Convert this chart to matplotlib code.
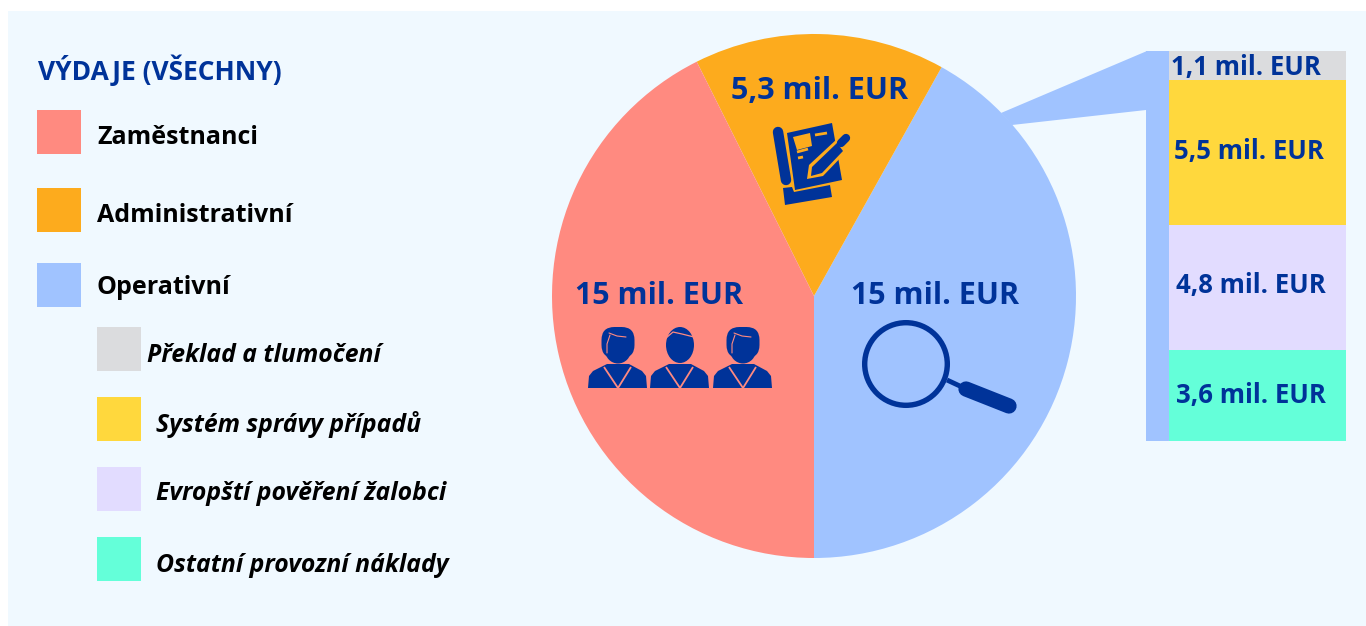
import numpy as np
import matplotlib
matplotlib.use("Agg")
import matplotlib.pyplot as plt
from matplotlib.patches import Rectangle, Polygon, Circle, Ellipse, FancyBboxPatch

main_labels = ["Zaměstnanci", "Administrativní", "Operativní"]
main_values = [15, 5.45, 14.75]
main_texts = ["15 mil. EUR", "5,3 mil. EUR", "15 mil. EUR"]

op_labels = ["Překlad a tlumočení", "Systém správy případů", "Evropští pověření žalobci", "Ostatní provozní náklady"]
op_values = [1.1, 5.6, 4.8, 3.5]
op_texts = ["1,1 mil. EUR", "5,5 mil. EUR", "4,8 mil. EUR", "3,6 mil. EUR"]

RED = "#FF8A80"
ORANGE = "#FDAB1D"
BLUE = "#A0C3FF"
NAVY = "#003399"
PANEL = "#F0F9FF"
main_colors = [RED, ORANGE, BLUE]
op_colors = ["#DBDCDE", "#FFD83D", "#E2DCFF", "#64FFD9"]

W, H = 1366, 626
plt.rcParams["font.family"] = ["Open Sans", "DejaVu Sans"]

fig = plt.figure(figsize=(W / 100, H / 100), dpi=100, facecolor="white")
ax = fig.add_axes([0, 0, 1, 1])


def Y(y):
    return H - y


def poly(points, color, z=4):
    ax.add_patch(Polygon([(x, Y(y)) for x, y in points], fc=color, ec="none", zorder=z))


def line(points, color, lw, z=5, cap="round"):
    xs = [p[0] for p in points]
    ys = [Y(p[1]) for p in points]
    ax.plot(xs, ys, color=color, lw=lw, zorder=z, solid_capstyle=cap, solid_joinstyle="round")


# pie, counter clockwise from 6 o'clock
ax.pie(main_values[::-1], colors=main_colors[::-1], startangle=-90, counterclock=True,
       center=(814, Y(296)), radius=262, wedgeprops={"linewidth": 0})
ax.set_xlim(0, W)
ax.set_ylim(0, H)
ax.set_aspect("auto")
ax.axis("off")
for w in ax.patches:
    w.set_zorder(2)

ax.add_patch(Rectangle((8, Y(626)), W - 8, 615, fc=PANEL, ec="none", zorder=0))

# connector to the breakdown bar
poly([(1147, 51), (1001, 113), (1012, 125), (1146, 110)], BLUE, z=1)
ax.add_patch(Rectangle((1146, Y(441)), 23, 390, fc=BLUE, ec="none", zorder=1))

# breakdown bar has its own axis in mil. EUR
bar_ax = fig.add_axes([1169 / W, Y(441) / H, 177 / W, 390 / H])
bar_ax.set_xlim(0, 1)
bar_ax.set_ylim(sum(op_values), 0)
bar_ax.axis("off")
bottoms = np.cumsum([0] + op_values[:-1])
bar_ax.bar(0.5, op_values, width=1, bottom=bottoms, color=op_colors, linewidth=0)

# labels
text_kw = dict(color=NAVY, fontweight="bold", va="center", ha="center")
ax.text(659, Y(296), main_texts[0], fontsize=22, zorder=5, **text_kw)
ax.text(820, Y(91), main_texts[1], fontsize=22, zorder=5, **text_kw)
ax.text(935, Y(296), main_texts[2], fontsize=22, zorder=5, **text_kw)
for txt, x, y in zip(op_texts, [1246, 1248.5, 1250.5, 1251], [67, 151, 285, 396]):
    bar_ax.text(x, Y(y), txt, fontsize=18.5, transform=ax.transData, clip_on=False, **text_kw)

# legend
ax.text(38, Y(70), "VÝDAJE (VŠECHNY)", color=NAVY, fontsize=19, fontweight="bold", va="center", zorder=5)
for lab, col, y, ty in zip(main_labels, main_colors, [110, 188, 263], [137, 215, 287]):
    ax.add_patch(Rectangle((37, Y(y + 44)), 44, 44, fc=col, ec="none", zorder=3))
    ax.text(97, Y(ty), lab, color="black", fontsize=18, fontweight="bold", va="center", zorder=5)
for lab, col, y, tx, ty in zip(op_labels, op_colors, [327, 397, 467, 537], [147, 156, 156, 156], [356, 424, 494, 565]):
    ax.add_patch(Rectangle((97, Y(y + 44)), 44, 44, fc=col, ec="none", zorder=3))
    ax.text(tx, Y(ty), lab, color="black", fontsize=17.8, fontweight="bold", style="italic", va="center", zorder=5)


# icons
def person(x0, woman):
    # x0 = left edge of the body, icon is 59 px wide
    cx = x0 + 30
    if woman:
        ax.add_patch(FancyBboxPatch((cx - 3.5, Y(345)), 7, 5, boxstyle="round,pad=13,rounding_size=13",
                                    fc=NAVY, ec="none", zorder=4))
        ax.add_patch(Ellipse((cx, Y(350)), 26, 27, fc=NAVY, ec="none", zorder=4))
        line([(cx - 9, 333), (cx - 1, 336), (cx + 8, 337)], RED, 0.8)
        line([(cx - 8, 335), (cx - 11, 344), (cx - 11, 353)], RED, 0.8)
    else:
        ax.add_patch(Ellipse((cx, Y(345)), 28, 36, fc=NAVY, ec="none", zorder=4))
        line([(cx - 14, 338), (cx - 7, 332), (cx + 2, 334), (cx + 14, 337)], RED, 0.9)
    body = [(x0, 388), (x0 + 1, 376), (x0 + 5, 371), (x0 + 19, 364), (x0 + 41, 364),
            (x0 + 54, 371), (x0 + 58, 376), (x0 + 59, 388)]
    poly(body, NAVY)
    line([(x0 + 16, 367), (x0 + 30, 388), (x0 + 43, 367)], RED, 1.3, cap="butt")


person(588, True)
person(650, False)
person(713, True)

# magnifier
ax.add_patch(Circle((906, Y(364)), 41.3, fc="none", ec=NAVY, lw=3.9, zorder=4))
line([(947, 380), (962, 387)], NAVY, 3.5, z=4, cap="butt")
line([(966, 389), (1009, 406)], NAVY, 11, z=4)

# document and pencil
poly([(787, 133), (832, 123), (842, 180), (795, 190)], NAVY)
line([(778, 132), (786, 180)], NAVY, 7.5, z=4)
poly([(783, 188), (785, 205), (832, 197), (830, 185), (794, 192), (792, 187)], NAVY)
poly([(793, 137), (810, 133), (812, 146), (797, 150)], ORANGE, z=5)
line([(815, 135), (827, 133)], ORANGE, 2, cap="butt")
line([(797, 152), (808, 149)], ORANGE, 2, cap="butt")
line([(798, 158), (803, 157)], ORANGE, 2, cap="butt")
poly([(807, 179), (809, 165), (837, 139), (847, 151), (823, 176)], ORANGE, z=5)
poly([(811, 176), (812, 167), (837, 143), (843, 151), (822, 173)], NAVY, z=6)
line([(841, 143), (846, 138)], NAVY, 6, z=6)

fig.savefig("out.png", dpi=100, facecolor="white")
